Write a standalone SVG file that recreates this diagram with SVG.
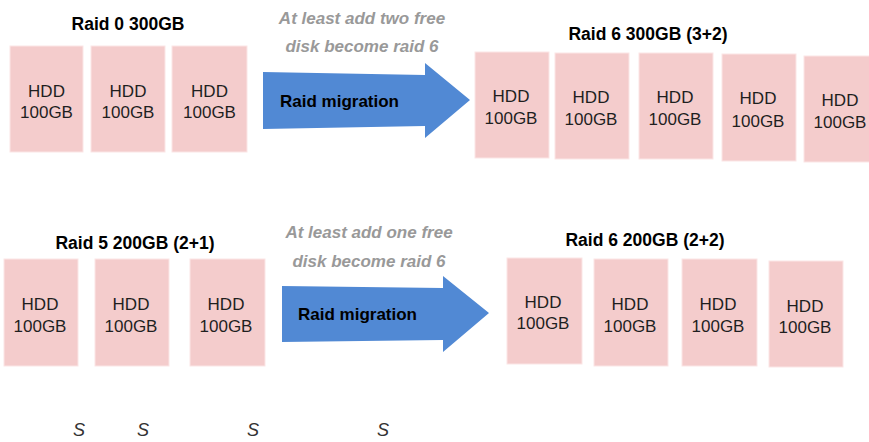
<svg xmlns="http://www.w3.org/2000/svg" width="869" height="442" viewBox="0 0 869 442">
<style>
.hdd{fill:#f4cccc;stroke:#fbe6e6;stroke-width:1}
.ht{font-family:"Liberation Sans",Arial,sans-serif;font-size:17px;fill:#1f1f1f;text-anchor:middle}
.title{font-family:"Liberation Sans",Arial,sans-serif;font-size:17.5px;font-weight:bold;fill:#000;text-anchor:middle}
.note{font-family:"Liberation Sans",Arial,sans-serif;font-size:17px;font-weight:bold;font-style:italic;fill:#999;text-anchor:middle}
.arrow{fill:#5189d4}
.mig{font-family:"Liberation Sans",Arial,sans-serif;font-size:17px;font-weight:bold;fill:#000}
.s{font-family:"Liberation Sans",Arial,sans-serif;font-size:18px;font-style:italic;fill:#333;text-anchor:middle}
</style>
<rect width="869" height="442" fill="#fff"/>

<g id="raid0">
<text class="title" x="128" y="30">Raid 0 300GB</text>
<g id="r0d1"><rect class="hdd" x="10" y="46" width="73" height="106"/><text class="ht" x="46.5" y="97">HDD</text><text class="ht" x="46.5" y="118">100GB</text></g>
<g id="r0d2"><rect class="hdd" x="91" y="46" width="74" height="106"/><text class="ht" x="128" y="97">HDD</text><text class="ht" x="128" y="118">100GB</text></g>
<g id="r0d3"><rect class="hdd" x="172" y="46" width="75" height="106"/><text class="ht" x="209.5" y="97">HDD</text><text class="ht" x="209.5" y="118">100GB</text></g>
</g>

<g id="migration1">
<text class="note" x="362" y="24">At least add two free</text>
<text class="note" x="362" y="52">disk become raid 6</text>
<polygon class="arrow" points="263,72 425,75 425,63 470,100 425,138 425,126 263,129"/>
<text class="mig" x="280" y="107">Raid migration</text>
</g>

<g id="raid6a">
<text class="title" x="648" y="40">Raid 6 300GB (3+2)</text>
<g id="r6ad1"><rect class="hdd" x="475" y="52" width="74" height="106"/><text class="ht" x="511" y="102">HDD</text><text class="ht" x="511" y="124">100GB</text></g>
<g id="r6ad2"><rect class="hdd" x="555" y="53" width="74" height="106"/><text class="ht" x="591" y="103">HDD</text><text class="ht" x="591" y="125">100GB</text></g>
<g id="r6ad3"><rect class="hdd" x="639" y="53" width="74" height="106"/><text class="ht" x="675" y="103">HDD</text><text class="ht" x="675" y="125">100GB</text></g>
<g id="r6ad4"><rect class="hdd" x="722" y="54" width="74" height="107"/><text class="ht" x="758" y="104">HDD</text><text class="ht" x="758" y="127">100GB</text></g>
<g id="r6ad5"><rect class="hdd" x="804" y="56" width="74" height="106"/><text class="ht" x="840" y="106">HDD</text><text class="ht" x="840" y="128">100GB</text></g>
</g>

<g id="raid5">
<text class="title" x="135" y="249">Raid 5 200GB (2+1)</text>
<g id="r5d1"><rect class="hdd" x="4" y="259" width="74" height="107"/><text class="ht" x="40" y="310">HDD</text><text class="ht" x="40" y="332">100GB</text></g>
<g id="r5d2"><rect class="hdd" x="95" y="259" width="74" height="107"/><text class="ht" x="131" y="310">HDD</text><text class="ht" x="131" y="332">100GB</text></g>
<g id="r5d3"><rect class="hdd" x="190" y="259" width="75" height="107"/><text class="ht" x="226" y="310">HDD</text><text class="ht" x="226" y="332">100GB</text></g>
</g>

<g id="migration2">
<text class="note" x="369" y="238">At least add one free</text>
<text class="note" x="369" y="267">disk become raid 6</text>
<polygon class="arrow" points="282,286 443,288 443,276 489,313 443,352 443,340 282,342"/>
<text class="mig" x="298" y="320">Raid migration</text>
</g>

<g id="raid6b">
<text class="title" x="645" y="246">Raid 6 200GB (2+2)</text>
<g id="r6bd1"><rect class="hdd" x="507" y="258" width="75" height="106"/><text class="ht" x="543" y="308">HDD</text><text class="ht" x="543" y="329">100GB</text></g>
<g id="r6bd2"><rect class="hdd" x="594" y="259" width="74" height="107"/><text class="ht" x="630" y="310">HDD</text><text class="ht" x="630" y="332">100GB</text></g>
<g id="r6bd3"><rect class="hdd" x="682" y="259" width="75" height="107"/><text class="ht" x="718" y="310">HDD</text><text class="ht" x="718" y="332">100GB</text></g>
<g id="r6bd4"><rect class="hdd" x="769" y="261" width="74" height="106"/><text class="ht" x="805" y="312">HDD</text><text class="ht" x="805" y="333">100GB</text></g>
</g>

<g id="connectors"></g>

<g id="footer">
<text class="s" x="79" y="436">S</text>
<text class="s" x="143" y="436">S</text>
<text class="s" x="253" y="436">S</text>
<text class="s" x="383" y="436">S</text>
</g>
</svg>
